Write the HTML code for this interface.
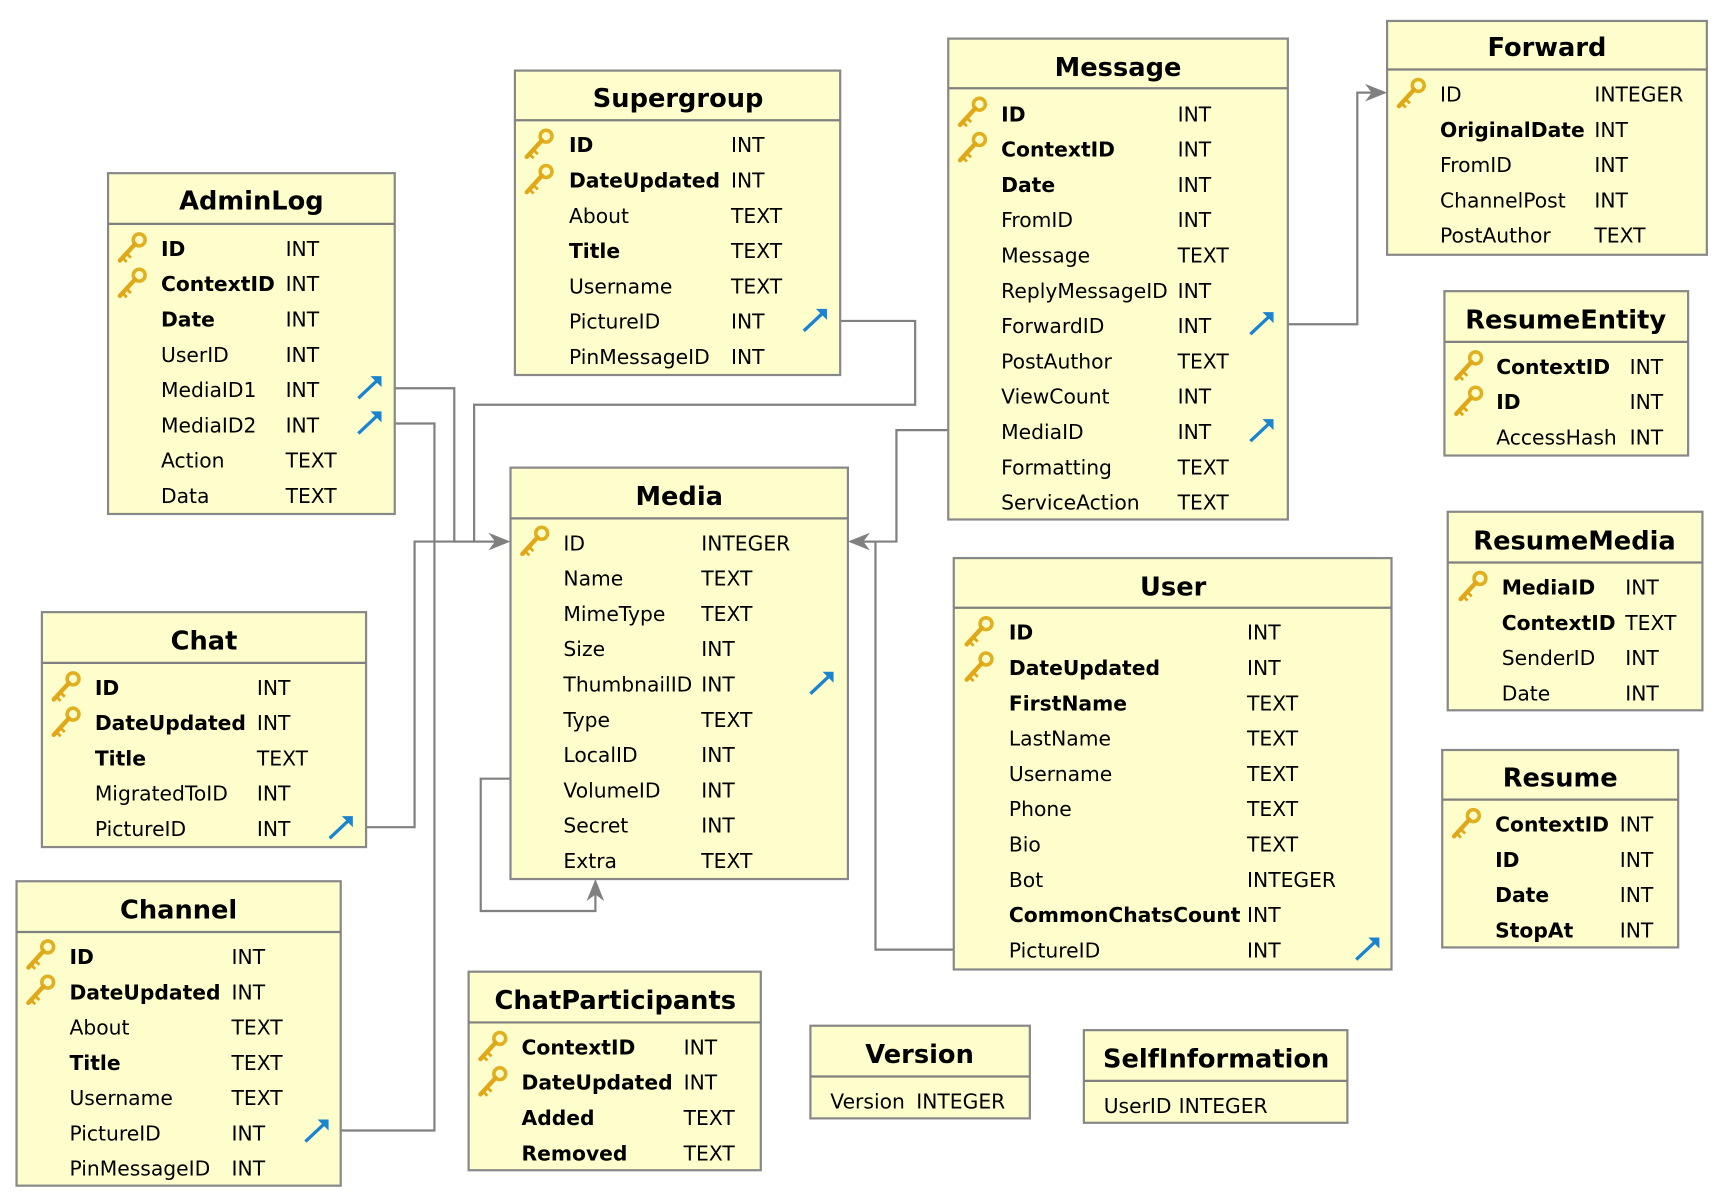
<!DOCTYPE html>
<html><head><meta charset="utf-8"><style>
html,body{margin:0;padding:0;background:#fff;}
svg{display:block;}
text{font-family:"DejaVu Sans","Liberation Sans",sans-serif;font-size:18.4px;fill:#000;}
.b{font-weight:bold;}
.t{font-weight:bold;font-size:23.3px;text-anchor:middle;}
.box{fill:#fefecc;stroke:#888;stroke-width:2;}
.ln{fill:none;stroke:#808080;stroke-width:2;}
.ah{fill:#808080;}
</style></head><body>
<svg width="1730" height="1200" viewBox="0 0 1569 1088" preserveAspectRatio="none" xmlns="http://www.w3.org/2000/svg">
<defs>
<g id="k" transform="scale(1.25)">
<circle cx="5" cy="-6" r="4.3" fill="none" stroke="#e0b020" stroke-width="2.6"/>
<line x1="2" y1="-3" x2="-9" y2="9" stroke="#e0a818" stroke-width="3.2" stroke-linecap="round"/>
<line x1="-7" y1="7" x2="-4" y2="10" stroke="#e0a818" stroke-width="2"/>
<line x1="-4" y1="4" x2="-1" y2="7" stroke="#e0a818" stroke-width="2"/>
</g>
<g id="a">
<line x1="-10" y1="9" x2="7" y2="-7" stroke="#1a84d0" stroke-width="3"/>
<polygon points="11,-11 1,-11 11,-1" fill="#1a84d0"/>
</g>
</defs>

<polyline class="ln" points="358,352 412,352 412,491 455,491"/>
<polyline class="ln" points="358,384 394,384 394,1025 309,1025"/>
<polyline class="ln" points="762,291 830,291 830,367 430,367 430,491"/>
<polyline class="ln" points="332,750 376,750 376,491 455,491"/>
<polygon class="ah" points="463,491 443,483 449,491 443,499"/>
<polyline class="ln" points="860,390 813,390 813,491 777,491"/>
<polyline class="ln" points="865,861 794,861 794,491 777,491"/>
<polygon class="ah" points="769,491 789,483 783,491 789,499"/>
<polyline class="ln" points="463,706 436,706 436,826 540,826 540,805"/>
<polygon class="ah" points="540,797 532,817 540,811 548,817"/>
<polyline class="ln" points="1168,294 1231,294 1231,84 1250,84"/>
<polygon class="ah" points="1258,84 1238,76 1244,84 1238,92"/>

<g transform="translate(0,1)">
<rect class="box" x="98" y="156" width="260" height="309"/><line class="ln" x1="98" y1="202" x2="358" y2="202"/>
<text class="t" x="228" y="189">AdminLog</text>
<use href="#k" x="120" y="224"/><use href="#k" x="120" y="256"/>
<text class="b" x="146" y="231">ID</text><text x="259" y="231">INT</text>
<text class="b" x="146" y="263">ContextID</text><text x="259" y="263">INT</text>
<text class="b" x="146" y="295">Date</text><text x="259" y="295">INT</text>
<text x="146" y="327">UserID</text><text x="259" y="327">INT</text>
<text x="146" y="359">MediaID1</text><text x="259" y="359">INT</text><use href="#a" x="335" y="351"/>
<text x="146" y="391">MediaID2</text><text x="259" y="391">INT</text><use href="#a" x="335" y="383"/>
<text x="146" y="423">Action</text><text x="259" y="423">TEXT</text>
<text x="146" y="455">Data</text><text x="259" y="455">TEXT</text>

<rect class="box" x="467" y="63" width="295" height="276"/><line class="ln" x1="467" y1="108" x2="762" y2="108"/>
<text class="t" x="615" y="96">Supergroup</text>
<use href="#k" x="489" y="130"/><use href="#k" x="489" y="162"/>
<text class="b" x="516" y="137">ID</text><text x="663" y="137">INT</text>
<text class="b" x="516" y="169">DateUpdated</text><text x="663" y="169">INT</text>
<text x="516" y="201">About</text><text x="663" y="201">TEXT</text>
<text class="b" x="516" y="233">Title</text><text x="663" y="233">TEXT</text>
<text x="516" y="265">Username</text><text x="663" y="265">TEXT</text>
<text x="516" y="297">PictureID</text><text x="663" y="297">INT</text><use href="#a" x="739" y="290"/>
<text x="516" y="329">PinMessageID</text><text x="663" y="329">INT</text>

<rect class="box" x="860" y="34" width="308" height="436"/><line class="ln" x1="860" y1="79" x2="1168" y2="79"/>
<text class="t" x="1014" y="68">Message</text>
<use href="#k" x="882" y="101"/><use href="#k" x="882" y="133"/>
<text class="b" x="908" y="109">ID</text><text x="1068" y="109">INT</text>
<text class="b" x="908" y="141">ContextID</text><text x="1068" y="141">INT</text>
<text class="b" x="908" y="173">Date</text><text x="1068" y="173">INT</text>
<text x="908" y="205">FromID</text><text x="1068" y="205">INT</text>
<text x="908" y="237">Message</text><text x="1068" y="237">TEXT</text>
<text x="908" y="269">ReplyMessageID</text><text x="1068" y="269">INT</text>
<text x="908" y="301">ForwardID</text><text x="1068" y="301">INT</text><use href="#a" x="1144" y="293"/>
<text x="908" y="333">PostAuthor</text><text x="1068" y="333">TEXT</text>
<text x="908" y="365">ViewCount</text><text x="1068" y="365">INT</text>
<text x="908" y="397">MediaID</text><text x="1068" y="397">INT</text><use href="#a" x="1144" y="390"/>
<text x="908" y="429">Formatting</text><text x="1068" y="429">TEXT</text>
<text x="908" y="461">ServiceAction</text><text x="1068" y="461">TEXT</text>

<rect class="box" x="1258" y="18" width="290" height="212"/><line class="ln" x1="1258" y1="62" x2="1548" y2="62"/>
<text class="t" x="1403" y="50">Forward</text>
<use href="#k" x="1280" y="84"/>
<text x="1306" y="91">ID</text><text x="1446" y="91">INTEGER</text>
<text class="b" x="1306" y="123">OriginalDate</text><text x="1446" y="123">INT</text>
<text x="1306" y="155">FromID</text><text x="1446" y="155">INT</text>
<text x="1306" y="187">ChannelPost</text><text x="1446" y="187">INT</text>
<text x="1306" y="219">PostAuthor</text><text x="1446" y="219">TEXT</text>

<rect class="box" x="1310" y="263" width="221" height="149"/><line class="ln" x1="1310" y1="309" x2="1531" y2="309"/>
<text class="t" x="1420" y="297">ResumeEntity</text>
<use href="#k" x="1332" y="331"/><use href="#k" x="1332" y="363"/>
<text class="b" x="1357" y="338">ContextID</text><text x="1478" y="338">INT</text>
<text class="b" x="1357" y="370">ID</text><text x="1478" y="370">INT</text>
<text x="1357" y="402">AccessHash</text><text x="1478" y="402">INT</text>

<rect class="box" x="1313" y="463" width="231" height="180"/><line class="ln" x1="1313" y1="509" x2="1544" y2="509"/>
<text class="t" x="1428" y="497">ResumeMedia</text>
<use href="#k" x="1336" y="531"/>
<text class="b" x="1362" y="538">MediaID</text><text x="1474" y="538">INT</text>
<text class="b" x="1362" y="570">ContextID</text><text x="1474" y="570">TEXT</text>
<text x="1362" y="602">SenderID</text><text x="1474" y="602">INT</text>
<text x="1362" y="634">Date</text><text x="1474" y="634">INT</text>

<rect class="box" x="1308" y="679" width="214" height="179"/><line class="ln" x1="1308" y1="724" x2="1522" y2="724"/>
<text class="t" x="1415" y="712">Resume</text>
<use href="#k" x="1330" y="746"/>
<text class="b" x="1356" y="753">ContextID</text><text x="1469" y="753">INT</text>
<text class="b" x="1356" y="785">ID</text><text x="1469" y="785">INT</text>
<text class="b" x="1356" y="817">Date</text><text x="1469" y="817">INT</text>
<text class="b" x="1356" y="849">StopAt</text><text x="1469" y="849">INT</text>

<rect class="box" x="463" y="423" width="306" height="373"/><line class="ln" x1="463" y1="469" x2="769" y2="469"/>
<text class="t" x="616" y="457">Media</text>
<use href="#k" x="485" y="490"/>
<text x="511" y="498">ID</text><text x="636" y="498">INTEGER</text>
<text x="511" y="530">Name</text><text x="636" y="530">TEXT</text>
<text x="511" y="562">MimeType</text><text x="636" y="562">TEXT</text>
<text x="511" y="594">Size</text><text x="636" y="594">INT</text>
<text x="511" y="626">ThumbnailID</text><text x="636" y="626">INT</text><use href="#a" x="745" y="619"/>
<text x="511" y="658">Type</text><text x="636" y="658">TEXT</text>
<text x="511" y="690">LocalID</text><text x="636" y="690">INT</text>
<text x="511" y="722">VolumeID</text><text x="636" y="722">INT</text>
<text x="511" y="754">Secret</text><text x="636" y="754">INT</text>
<text x="511" y="786">Extra</text><text x="636" y="786">TEXT</text>

<rect class="box" x="865" y="505" width="397" height="373"/><line class="ln" x1="865" y1="550" x2="1262" y2="550"/>
<text class="t" x="1064" y="539">User</text>
<use href="#k" x="888" y="572"/><use href="#k" x="888" y="604"/>
<text class="b" x="915" y="579">ID</text><text x="1131" y="579">INT</text>
<text class="b" x="915" y="611">DateUpdated</text><text x="1131" y="611">INT</text>
<text class="b" x="915" y="643">FirstName</text><text x="1131" y="643">TEXT</text>
<text x="915" y="675">LastName</text><text x="1131" y="675">TEXT</text>
<text x="915" y="707">Username</text><text x="1131" y="707">TEXT</text>
<text x="915" y="739">Phone</text><text x="1131" y="739">TEXT</text>
<text x="915" y="771">Bio</text><text x="1131" y="771">TEXT</text>
<text x="915" y="803">Bot</text><text x="1131" y="803">INTEGER</text>
<text class="b" x="915" y="835">CommonChatsCount</text><text x="1131" y="835">INT</text>
<text x="915" y="867">PictureID</text><text x="1131" y="867">INT</text><use href="#a" x="1240" y="860"/>

<rect class="box" x="38" y="554" width="294" height="213"/><line class="ln" x1="38" y1="600" x2="332" y2="600"/>
<text class="t" x="185" y="588">Chat</text>
<use href="#k" x="60" y="622"/><use href="#k" x="60" y="654"/>
<text class="b" x="86" y="629">ID</text><text x="233" y="629">INT</text>
<text class="b" x="86" y="661">DateUpdated</text><text x="233" y="661">INT</text>
<text class="b" x="86" y="693">Title</text><text x="233" y="693">TEXT</text>
<text x="86" y="725">MigratedToID</text><text x="233" y="725">INT</text>
<text x="86" y="757">PictureID</text><text x="233" y="757">INT</text><use href="#a" x="309" y="750"/>

<rect class="box" x="15" y="798" width="294" height="276"/><line class="ln" x1="15" y1="844" x2="309" y2="844"/>
<text class="t" x="162" y="832">Channel</text>
<use href="#k" x="37" y="865"/><use href="#k" x="37" y="897"/>
<text class="b" x="63" y="873">ID</text><text x="210" y="873">INT</text>
<text class="b" x="63" y="905">DateUpdated</text><text x="210" y="905">INT</text>
<text x="63" y="937">About</text><text x="210" y="937">TEXT</text>
<text class="b" x="63" y="969">Title</text><text x="210" y="969">TEXT</text>
<text x="63" y="1001">Username</text><text x="210" y="1001">TEXT</text>
<text x="63" y="1033">PictureID</text><text x="210" y="1033">INT</text><use href="#a" x="287" y="1025"/>
<text x="63" y="1065">PinMessageID</text><text x="210" y="1065">INT</text>

<rect class="box" x="425" y="880" width="265" height="180"/><line class="ln" x1="425" y1="926" x2="690" y2="926"/>
<text class="t" x="558" y="914">ChatParticipants</text>
<use href="#k" x="447" y="948"/><use href="#k" x="447" y="980"/>
<text class="b" x="473" y="955">ContextID</text><text x="620" y="955">INT</text>
<text class="b" x="473" y="987">DateUpdated</text><text x="620" y="987">INT</text>
<text class="b" x="473" y="1019">Added</text><text x="620" y="1019">TEXT</text>
<text class="b" x="473" y="1051">Removed</text><text x="620" y="1051">TEXT</text>

<rect class="box" x="735" y="929" width="199" height="84"/><line class="ln" x1="735" y1="975" x2="934" y2="975"/>
<text class="t" x="834" y="963">Version</text>
<text x="753" y="1004">Version</text><text x="831" y="1004">INTEGER</text>

<rect class="box" x="983" y="933" width="239" height="84"/><line class="ln" x1="983" y1="979" x2="1222" y2="979"/>
<text class="t" x="1103" y="967">SelfInformation</text>
<text x="1001" y="1008">UserID</text><text x="1069" y="1008">INTEGER</text>
</g>
</svg>
</body></html>
